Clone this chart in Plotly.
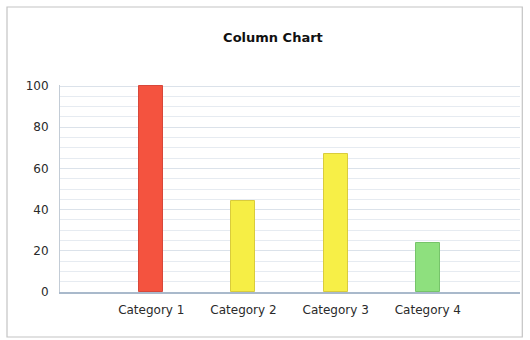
import plotly.graph_objects as go

# Chart data
categories = ["Category 1", "Category 2", "Category 3", "Category 4"]
values = [100, 44, 67, 24]
bar_colors = ["#f4533f", "#f6ee45", "#f7ef47", "#8ee07e"]
bar_edges = ["#d8473a", "#d9cc3c", "#d9cc3c", "#76c46a"]
y_ticks = [0, 20, 40, 60, 80, 100]

FONT = "DejaVu Sans, Verdana, sans-serif"

fig = go.Figure(
    go.Bar(
        x=list(range(len(categories))),
        y=values,
        width=0.26,
        marker=dict(color=bar_colors, line=dict(color=bar_edges, width=1)),
        hoverinfo="x+y",
    )
)

fig.update_layout(
    width=530,
    height=340,
    margin=dict(l=60, r=10, t=85, b=48),
    paper_bgcolor="white",
    plot_bgcolor="white",
    showlegend=False,
    bargap=0,
    title=dict(
        text="<b>Column Chart</b>",
        x=0.515,
        xanchor="center",
        y=1 - 37 / 340,
        yanchor="middle",
        font=dict(family=FONT, size=13, color="#111"),
    ),
    font=dict(family=FONT, size=12, color="#333"),
    shapes=[
        dict(type="rect", xref="paper", yref="paper",
             x0=-53 / 460, x1=1.005, y0=-45 / 207, y1=1 + 78 / 207,
             line=dict(color="#c4c4c4", width=1.2), layer="below"),
    ],
)

fig.update_xaxes(
    range=[-0.99, 4.0],
    tickmode="array",
    tickvals=list(range(len(categories))),
    ticktext=categories,
    showgrid=False,
    zeroline=False,
    showline=True,
    linecolor="#a9b9cb",
    linewidth=2,
    ticks="",
    ticklabelstandoff=6,
    tickfont=dict(size=12, color="#2a2a2a"),
)

fig.update_yaxes(
    range=[0, 100.5],
    tickmode="array",
    tickvals=y_ticks,
    showgrid=True,
    gridcolor="#dbe2ea",
    gridwidth=1,
    minor=dict(dtick=5, tick0=0, showgrid=True, gridcolor="#e6ebf1", gridwidth=1),
    zeroline=False,
    showline=True,
    linecolor="#c3ccd6",
    linewidth=1,
    ticks="",
    ticklabelstandoff=8,
    tickfont=dict(size=12, color="#2a2a2a"),
)

fig.write_html("out.html")
